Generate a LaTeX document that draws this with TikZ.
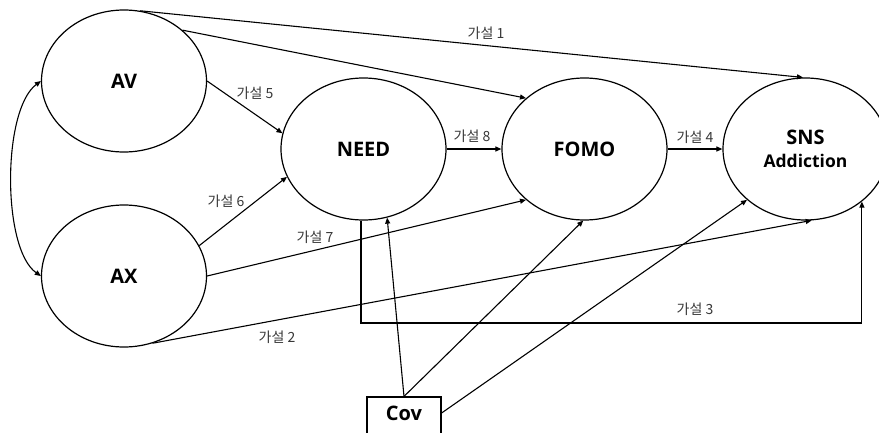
\documentclass[tikz,border=0pt]{standalone}
\usepackage{fontspec}
\setmainfont{Open Sans}
\newfontfamily\krfont{Noto Sans CJK KR}
\usetikzlibrary{shapes.geometric,arrows.meta}

\begin{document}
\begin{tikzpicture}[x=1pt,y=-1pt,
  latent/.style={ellipse,draw,line width=1.2pt,minimum width=165pt,minimum height=142pt,
    inner sep=0pt,align=center,font=\bfseries\fontsize{20}{22}\selectfont},
  obsbox/.style={rectangle,draw,line width=1.2pt,minimum width=74pt,minimum height=40pt,
    inner sep=0pt,text height=14pt,text depth=6.6pt,font=\bfseries\fontsize{20}{22}\selectfont},
  arr/.style={line width=1.1pt,-{Triangle[length=6pt,width=5pt]}},
  biarr/.style={line width=1.1pt,{Triangle[length=6pt,width=5pt]}-{Triangle[length=6pt,width=5pt]}},
  hyp/.style={inner sep=0pt,text=black!78,font=\krfont\fontsize{14}{16}\selectfont},
]
\useasboundingbox (0,0) rectangle (879,432);

% latent variables
\node[latent] (AV)   at (124,81)    {AV};
\node[latent] (AX)   at (124,276)   {AX};
\node[latent] (NEED) at (363.5,149) {NEED};
\node[latent] (FOMO) at (584.5,149) {FOMO};
\node[latent] (SNS)  at (805.5,149) {SNS\\[1pt]{\fontsize{17.5}{20}\selectfont Addiction}};

% covariate box
\node[obsbox] (Cov) at (404,417) {Cov};

% correlation between AV and AX
\draw[biarr] (AV.west) .. controls (2,110) and (2,249) .. (AX.west);

% hypothesised paths
\draw[arr] (AV.77)  -- (SNS.92);
\draw[arr] (AV.41)  -- (FOMO.139);
\draw[arr] (AV.east) -- (NEED.169);
\draw[arr] (AX.22)  -- (NEED.200);
\draw[arr] (AX.east) -- (FOMO.221);
\draw[arr] (AX.-67) -- (SNS.-85);
\draw[arr] (NEED.east) -- (FOMO.west);
\draw[arr] (FOMO.east) -- (SNS.west);

\coordinate (bend) at (0,323);
\draw[arr] (NEED.268) -- (NEED.268 |- bend) -- (SNS.-43 |- bend) -- (SNS.-43);

% covariate paths
\draw[arr] (Cov.north) -- (NEED.-71);
\draw[arr] (Cov.north) -- (FOMO.-91);
\draw[arr] ([yshift=4pt]Cov.east) -- (SNS.221);

% hypothesis labels
\node[hyp] (h1) at (486,33)  {가설 1};
\node[hyp] (h2) at (277,337) {가설 2};
\node[hyp] (h3) at (695,309) {가설 3};
\node[hyp] (h4) at (695,137) {가설 4};
\node[hyp] (h5) at (255,93)  {가설 5};
\node[hyp] (h6) at (226,201) {가설 6};
\node[hyp] (h7) at (315,237) {가설 7};
\node[hyp] (h8) at (472,136) {가설 8};
\end{tikzpicture}
\end{document}
